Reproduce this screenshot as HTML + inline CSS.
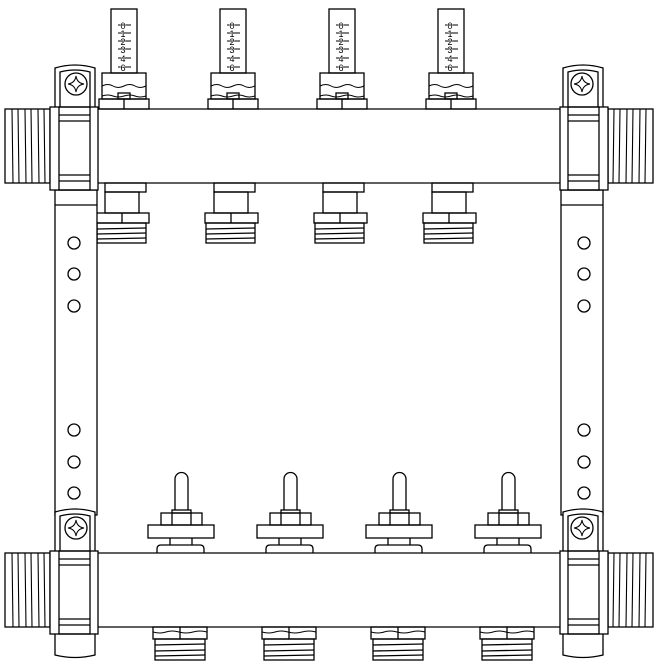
<!DOCTYPE html>
<html><head><style>html,body{margin:0;padding:0;background:#fff}svg{display:block}</style></head><body>
<svg width="664" height="664" viewBox="0 0 664 664" xmlns="http://www.w3.org/2000/svg" fill="none" stroke="#000" stroke-width="1.3">
<defs>
<g id="fm">
<rect x="111" y="9" width="26" height="64" fill="#fff"/>
<g stroke-width="1">
<line x1="118" y1="25" x2="131" y2="25"/><line x1="118" y1="33" x2="131" y2="33"/><line x1="118" y1="41" x2="131" y2="41"/><line x1="118" y1="49" x2="131" y2="49"/><line x1="118" y1="58" x2="131" y2="58"/><line x1="118" y1="67" x2="131" y2="67"/>
</g>
<g font-family="Liberation Sans, sans-serif" font-size="9" fill="#000" stroke="#fff" stroke-width="0.8" paint-order="stroke" text-anchor="middle">
<text x="123" y="29">0</text><text x="123" y="37">1</text><text x="123" y="45">2</text><text x="123" y="53">3</text><text x="123" y="62">4</text><text x="123" y="71">6</text>
</g>
<rect x="102" y="73" width="44" height="26"/>
<path d="M102 86 q6 -3 11 0 t11 0 t11 0 t11 0" stroke-width="1"/>
<path d="M102 96 q6 -2 11 0 t11 0 t11 0 t11 0" stroke-width="1"/>
<rect x="118" y="93" width="12" height="6"/>
<rect x="99" y="99" width="50" height="10"/><line x1="124" y1="99" x2="124" y2="109"/>
<rect x="105" y="183" width="41" height="9"/>
<rect x="105" y="192" width="34" height="21"/>
<rect x="96" y="213" width="53" height="10"/><line x1="122" y1="213" x2="122" y2="223"/>
<rect x="97" y="223" width="49" height="20"/>
<line x1="97" y1="229" x2="146" y2="228"/><line x1="97" y1="234" x2="146" y2="233"/><line x1="97" y1="239" x2="146" y2="238"/>
</g>
<g id="vl">
<path d="M175 510 V479 a6.5 6.5 0 0 1 13 0 V510"/>
<rect x="172" y="510" width="19" height="3"/>
<rect x="161" y="513" width="41" height="12"/><line x1="172" y1="513" x2="172" y2="525"/><line x1="191" y1="513" x2="191" y2="525"/>
<rect x="148" y="525" width="66" height="13"/>
<path d="M170 538 V545 M192 538 V545"/>
<path d="M157 553 V549 q0 -4 4 -4 H200 q4 0 4 4 V553"/>
<rect x="153" y="627" width="54" height="12"/><line x1="180" y1="627" x2="180" y2="639"/>
<path d="M153 632 q7 2 13 0 t13 0 t14 0 t14 0" stroke-width="1"/>
<rect x="155" y="639" width="50" height="21"/>
<line x1="155" y1="645" x2="205" y2="644"/><line x1="155" y1="651" x2="205" y2="650"/><line x1="155" y1="656" x2="205" y2="655"/>
</g>
<g id="endL">
<rect x="55" y="190" width="42" height="325" fill="#fff"/>
<line x1="55" y1="205" x2="97" y2="205"/>
<circle cx="74" cy="243" r="6"/><circle cx="74" cy="274" r="6"/><circle cx="74" cy="306" r="6"/>
<circle cx="74" cy="430" r="6"/><circle cx="74" cy="462" r="6"/><circle cx="74" cy="493" r="6"/>
<g id="coup">
<path d="M55 107 V68 q20 -6 40 0 V107" fill="#fff"/>
<path d="M60 107 V72 q15 -4 30 0 V107"/>
<circle cx="76" cy="84" r="11"/>
<path d="M76 76 Q77 83 84 84 Q77 85 76 92 Q75 85 68 84 Q75 83 76 76Z" stroke-width="1"/>
<rect x="5" y="109" width="45" height="74" fill="#fff"/>
<g stroke-width="1.1">
<line x1="12" y1="109" x2="13" y2="183"/><line x1="18" y1="109" x2="19" y2="183"/><line x1="25" y1="109" x2="26" y2="183"/><line x1="31" y1="109" x2="32" y2="183"/><line x1="38" y1="109" x2="39" y2="183"/><line x1="44" y1="109" x2="45" y2="183"/>
</g>
<rect x="50" y="107" width="48" height="83" fill="#fff"/>
<rect x="59" y="107" width="31" height="83"/>
<line x1="59" y1="115" x2="90" y2="115"/><line x1="59" y1="121" x2="90" y2="121"/>
<line x1="59" y1="175" x2="90" y2="175"/><line x1="59" y1="181" x2="90" y2="181"/>
</g>
<use href="#coup" transform="translate(0,444)"/>
<path d="M55 634 V655 q20 5 40 0 V634"/>
</g>
</defs>
<rect x="0" y="0" width="664" height="664" fill="#fff" stroke="none"/>
<use href="#fm"/><use href="#fm" transform="translate(109,0)"/><use href="#fm" transform="translate(218,0)"/><use href="#fm" transform="translate(327,0)"/>
<use href="#vl"/><use href="#vl" transform="translate(109,0)"/><use href="#vl" transform="translate(218,0)"/><use href="#vl" transform="translate(327,0)"/>
<line x1="98" y1="109" x2="560" y2="109"/><line x1="98" y1="183" x2="560" y2="183"/>
<line x1="98" y1="553" x2="560" y2="553"/><line x1="98" y1="627" x2="560" y2="627"/>
<use href="#endL"/>
<use href="#endL" transform="translate(658,0) scale(-1,1)"/>
</svg>
</body></html>
